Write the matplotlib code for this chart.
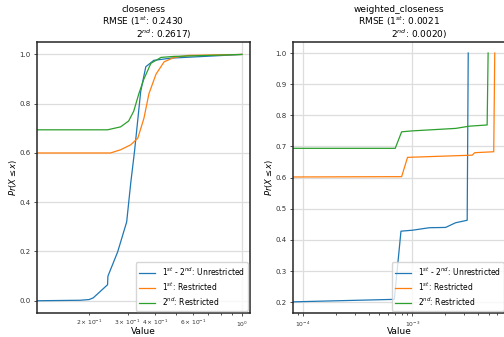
"""CDF comparison of closeness measures -> out.png."""

import matplotlib

matplotlib.use("Agg")
import matplotlib.pyplot as plt

# closeness (left panel)
close_unres_x = [0.115, 0.1816, 0.2, 0.2087, 0.2425, 0.2435, 0.2697, 0.2967, 0.3095,
                 0.3226, 0.344, 0.363, 0.395, 0.473, 1.0]
close_unres_y = [0.0, 0.002, 0.005, 0.012, 0.065, 0.10, 0.198, 0.32, 0.476,
                 0.61, 0.85, 0.95, 0.976, 0.985, 1.0]
close_r1_x = [0.115, 0.2502, 0.2783, 0.3095, 0.3336, 0.3557, 0.3751, 0.4043, 0.4403,
              0.4896, 0.5686, 1.0]
close_r1_y = [0.60, 0.60, 0.613, 0.633, 0.66, 0.74, 0.84, 0.92, 0.97,
              0.988, 0.996, 1.0]
close_r2_x = [0.115, 0.2425, 0.2783, 0.3031, 0.3197, 0.3372, 0.3557, 0.3831, 0.4264,
              0.4896, 1.0]
close_r2_y = [0.694, 0.694, 0.706, 0.73, 0.77, 0.84, 0.90, 0.964, 0.988,
              0.992, 1.0]

# weighted_closeness (right panel)
wclose_unres_x = [8.0e-5, 6.86e-4, 7.89e-4, 1.003e-3, 1.43e-3, 2.02e-3, 2.49e-3,
                  3.18e-3, 3.25e-3]
wclose_unres_y = [0.201, 0.209, 0.428, 0.431, 0.439, 0.44, 0.455, 0.463, 1.0]
wclose_r1_x = [8.0e-5, 8.0e-4, 9.06e-4, 3.53e-3, 3.73e-3, 5.56e-3, 5.68e-3]
wclose_r1_y = [0.602, 0.603, 0.665, 0.672, 0.68, 0.683, 1.0]
wclose_r2_x = [8.0e-5, 6.99e-4, 8.0e-4, 1.0e-3, 2.5e-3, 3.3e-3, 4.84e-3, 4.94e-3]
wclose_r2_y = [0.694, 0.694, 0.747, 0.750, 0.758, 0.765, 0.769, 1.0]

titles = [
    "closeness\nRMSE (1$^{st}$: 0.2430\n              2$^{nd}$: 0.2617)",
    "weighted_closeness\nRMSE (1$^{st}$: 0.0021\n              2$^{nd}$: 0.0020)",
]
labels = ["1$^{st}$ - 2$^{nd}$: Unrestricted", "1$^{st}$: Restricted", "2$^{nd}$: Restricted"]
colors = ["#1f77b4", "#ff7f0e", "#2ca02c"]

panels = [
    ([close_unres_x, close_r1_x, close_r2_x], [close_unres_y, close_r1_y, close_r2_y],
     (0.115, 1.089), (-0.05, 1.05), [0.0, 0.2, 0.4, 0.6, 0.8, 1.0]),
    ([wclose_unres_x, wclose_r1_x, wclose_r2_x], [wclose_unres_y, wclose_r1_y, wclose_r2_y],
     (8.1e-5, 7.2e-3), (0.165, 1.035), [0.2, 0.3, 0.4, 0.5, 0.6, 0.7, 0.8, 0.9, 1.0]),
]

fig = plt.figure(figsize=(5.04, 3.37), dpi=100)
lefts = [0.073, 0.581]

for left, title, (xs, ys, xlim, ylim, yticks) in zip(lefts, titles, panels):
    ax = fig.add_axes([left, 0.071, 0.423, 0.804])
    for x, y, c, lab in zip(xs, ys, colors, labels):
        ax.plot(x, y, color=c, lw=0.9, label=lab)
    ax.set_xscale("log")
    ax.set_xlim(*xlim)
    ax.set_ylim(*ylim)
    ax.set_yticks(yticks)
    ax.grid(True, color="#dddddd", lw=0.9)
    ax.set_axisbelow(True)
    for sp in ax.spines.values():
        sp.set_color("0.15")
        sp.set_linewidth(1.1)
    ax.tick_params(axis="y", which="both", labelsize=5, colors="0.2", width=0.6,
                   length=2.5, pad=2)
    ax.tick_params(axis="x", which="both", labelsize=4.3, colors="0.2", width=0.6, pad=2)
    ax.tick_params(axis="x", which="major", length=2.5)
    ax.tick_params(axis="x", which="minor", length=1.5)
    ax.set_xlabel("Value", fontsize=6.5, labelpad=-1)
    ax.set_ylabel(r"$Pr(X \leq x)$", fontsize=6, labelpad=0)
    ax.set_title(title, fontsize=6.5, linespacing=1.0, pad=3)
    ax.legend(loc="lower right", fontsize=5.5, handlelength=2.2, borderaxespad=0.3,
              labelspacing=0.35, framealpha=0.8, edgecolor="#cccccc", fancybox=True)

fig.savefig("out.png", dpi=100)
plt.close(fig)
